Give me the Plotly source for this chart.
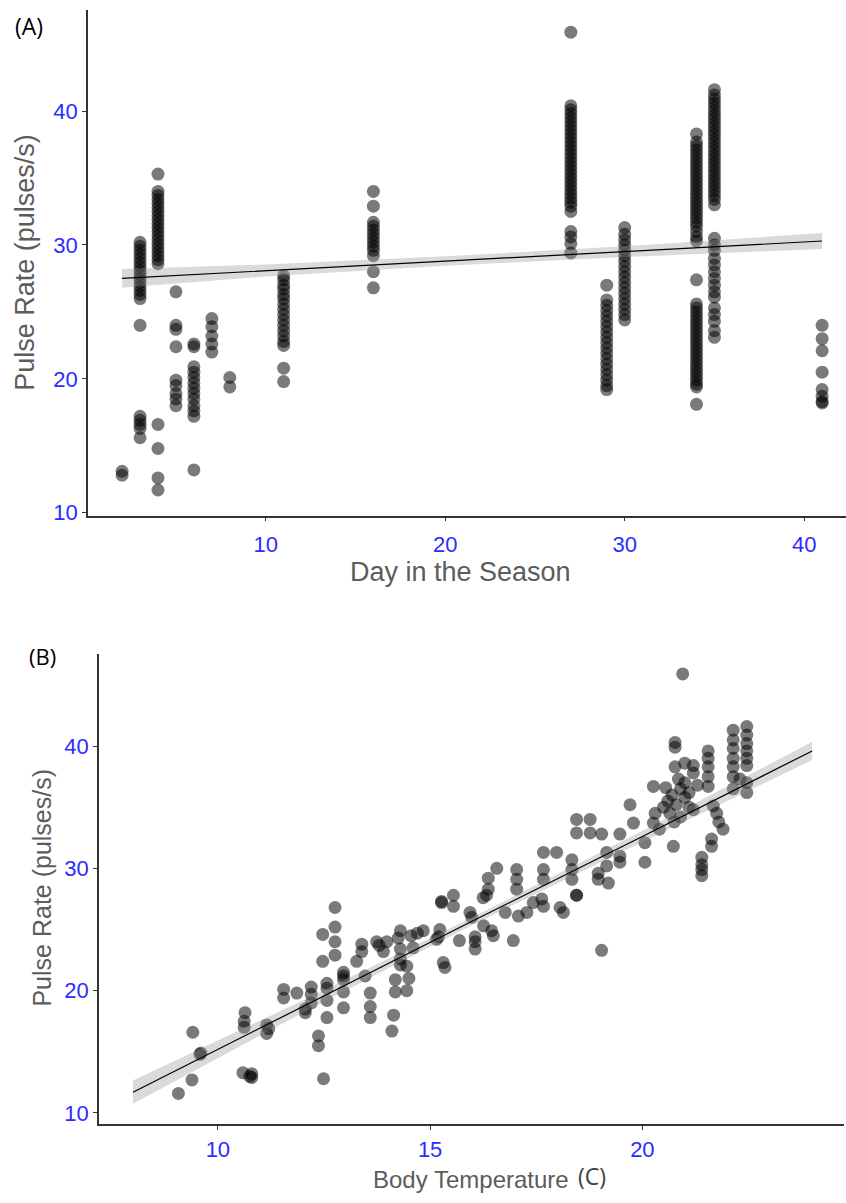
import plotly.graph_objects as go

# ---------------- Panel A data: Day in the Season vs Pulse Rate ----------------
days = [2, 3, 4, 5, 6, 7, 8, 11, 16, 27, 29, 30, 34, 35, 41]
pulse_by_day = [
    [13.1, 12.8],
    [30.2, 29.9, 29.6, 29.3, 29.0, 28.7, 28.4, 28.1, 27.8, 27.5, 27.2, 26.9, 26.6, 26.3, 26.0,
     24.0, 17.2, 16.9, 16.6, 16.3, 15.6],
    [35.3, 34.0, 33.7, 33.4, 33.1, 32.8, 32.5, 32.2, 31.9, 31.6, 31.3, 31.0, 30.7, 30.4, 30.1,
     29.8, 29.5, 29.2, 28.9, 28.6, 16.6, 14.8, 12.6, 11.7],
    [26.5, 24.0, 23.7, 22.4, 19.9, 19.5, 18.9, 18.5, 18.0],
    [22.6, 22.4, 20.9, 20.5, 20.1, 19.7, 19.3, 18.9, 18.5, 18.0, 17.6, 17.2, 13.2],
    [24.5, 23.9, 23.2, 22.6, 22.0],
    [20.1, 19.4],
    [27.7, 27.4, 27.0, 26.7, 26.3, 26.0, 25.6, 25.2, 24.8, 24.4, 24.0, 23.6, 23.2, 22.8, 22.5,
     20.8, 19.8],
    [34.0, 32.9, 31.7, 31.4, 31.1, 30.8, 30.5, 30.2, 29.9, 29.6, 29.2, 28.0, 26.8],
    [45.9, 40.4, 40.1, 39.8, 39.5, 39.2, 38.9, 38.6, 38.3, 38.0, 37.7, 37.4, 37.1, 36.8, 36.5,
     36.2, 35.9, 35.6, 35.3, 35.0, 34.7, 34.4, 34.1, 33.8, 33.5, 33.2, 32.9, 32.5, 31.0, 30.6,
     30.1, 29.4],
    [27.0, 25.9, 25.5, 25.1, 24.7, 24.3, 23.9, 23.5, 23.1, 22.7, 22.3, 21.9, 21.5, 21.1, 20.7,
     20.3, 19.9, 19.5, 19.2],
    [31.3, 30.8, 30.4, 30.0, 29.6, 29.2, 28.8, 28.4, 28.0, 27.6, 27.2, 26.8, 26.4, 26.0, 25.6,
     25.2, 24.8, 24.4],
    [38.3, 37.7, 37.4, 37.1, 36.8, 36.5, 36.2, 35.9, 35.6, 35.3, 35.0, 34.7, 34.4, 34.1, 33.8,
     33.5, 33.2, 32.9, 32.6, 32.3, 32.0, 31.7, 31.4, 31.0, 30.6, 30.3, 27.4, 25.6, 25.3, 25.0,
     24.7, 24.4, 24.1, 23.8, 23.5, 23.2, 22.9, 22.6, 22.3, 22.0, 21.7, 21.4, 21.1, 20.8, 20.5,
     20.2, 19.9, 19.6, 19.4, 18.1],
    [41.6, 41.2, 40.9, 40.6, 40.3, 40.0, 39.7, 39.4, 39.1, 38.8, 38.5, 38.2, 37.9, 37.6, 37.3,
     37.0, 36.7, 36.4, 36.1, 35.8, 35.5, 35.2, 34.9, 34.6, 34.3, 34.0, 33.7, 33.4, 33.0, 30.5,
     30.0, 29.6, 29.0, 28.5, 28.0, 27.5, 27.0, 26.5, 26.1, 25.3, 24.8, 24.3, 23.6, 23.1],
    [24.0, 23.0, 22.1, 20.5, 19.2, 18.7, 18.3, 18.2],
]
fit_a_x = [2, 10, 20, 30, 41]
fit_a_y = [27.5, 28.1, 28.8, 29.5, 30.3]
fit_a_half = [0.7, 0.45, 0.35, 0.4, 0.6]

# ---------------- Panel B data: Body Temperature vs Pulse Rate ----------------
body_temp = [
    9.07, 9.39, 9.41, 9.58, 9.60,
    10.59, 10.80, 10.80, 10.75, 10.64, 10.62, 10.62,
    11.15, 11.15, 11.20, 11.55, 11.55, 11.86,
    12.06, 12.06, 12.20, 12.20, 12.20, 12.37, 12.37, 12.49,
    12.47, 12.47, 12.57, 12.57, 12.57, 12.57,
    12.76, 12.76, 12.76, 12.76, 12.96, 12.96, 12.96, 12.96, 12.96,
    13.27, 13.39, 13.39, 13.47, 13.59, 13.59, 13.59,
    13.74, 13.98, 13.90, 13.80,
    14.10, 14.14, 14.18, 14.18, 14.30, 14.30, 14.30, 14.30, 14.25,
    14.45, 14.45, 14.50, 14.55, 14.60, 14.70, 14.84,
    15.23, 15.15, 15.20, 15.31, 15.35, 15.69,
    16.06, 16.06, 16.06, 16.26, 16.45, 16.49,
    16.77, 16.96, 17.08, 17.28, 17.43, 17.63, 17.67,
    18.06, 18.14, 18.45, 19.04,
    15.27, 15.55, 15.55, 15.27, 15.94, 15.98, 16.25, 16.33,
    16.57, 16.37, 16.37, 17.04, 17.04, 17.04,
    17.67, 17.67, 17.67, 17.98, 18.34, 18.34, 18.34, 18.45,
    18.96, 18.96, 19.20, 18.77, 18.45, 18.45, 18.77,
    19.04, 19.16, 19.16, 19.47, 19.47, 19.47, 19.71, 19.79,
    20.06, 20.06, 20.26, 20.40, 20.30, 20.26,
    20.50, 20.60, 20.70, 20.80, 20.90, 21.00, 21.10, 20.65, 20.75, 20.90, 21.20, 21.00, 20.85,
    21.10, 21.30, 20.55,
    20.73, 20.77, 20.77, 20.77, 21.00, 21.20, 21.20,
    21.55, 21.55, 21.55, 21.55, 21.55, 21.67, 21.75, 21.80, 21.90, 21.63, 21.63,
    21.40, 21.40, 21.40, 21.40,
    22.14, 22.14, 22.14, 22.14, 22.14, 22.14, 22.14,
    22.46, 22.46, 22.46, 22.46, 22.46, 22.46, 22.30, 22.46, 22.46,
    20.95,
]
pulse_b = [
    11.6, 12.7, 16.6, 14.8, 14.9,
    13.3, 13.2, 12.9, 13.0, 18.2, 17.5, 17.0,
    17.2, 16.5, 16.9, 20.1, 19.4, 19.8,
    18.5, 18.2, 20.3, 19.7, 19.0, 16.3, 15.5, 12.8,
    24.6, 22.4, 20.2, 19.2, 17.8, 20.6,
    26.8, 25.2, 24.0, 22.9, 21.5, 20.9, 19.9, 18.6, 21.2,
    22.4, 23.8, 23.2, 21.2, 19.8, 18.7, 17.8,
    24.0, 24.0, 23.2, 23.7,
    16.7, 18.0, 20.9, 19.9, 24.9, 23.4, 22.6, 22.1, 24.3,
    22.0, 20.0, 21.0, 24.5, 23.5, 24.7, 24.9,
    25.0, 24.2, 24.4, 22.3, 21.9, 24.1,
    24.4, 23.4, 24.0, 25.3, 24.9, 24.5,
    26.4, 24.1, 26.1, 26.4, 27.2, 27.5, 26.9,
    26.8, 26.4, 27.8, 23.3,
    27.2, 26.9, 27.8, 27.3, 26.4, 26.0, 27.6, 27.8,
    30.0, 29.2, 28.3, 29.9, 29.1, 28.3,
    31.3, 29.9, 29.1, 31.3, 30.7, 29.9, 29.1, 27.8,
    29.6, 29.1, 28.8, 34.0, 34.0, 32.9, 32.9,
    32.8, 31.3, 30.2, 32.8, 31.0, 30.5, 35.2, 33.7,
    32.1, 30.5, 33.7, 33.2, 34.5, 36.7,
    35.0, 35.5, 36.0, 35.2, 36.5, 35.8, 36.2, 34.5, 33.8, 34.2, 34.8, 37.0, 37.3,
    35.0, 36.8, 36.6,
    31.8, 40.3, 39.9, 38.3, 38.6, 38.4, 37.8,
    39.6, 39.0, 38.3, 37.5, 36.7, 35.1, 34.5, 33.8, 33.2, 32.4, 31.8,
    30.9, 30.3, 29.9, 29.4,
    41.3, 40.5, 39.8, 39.0, 38.3, 37.5, 36.5,
    41.6, 40.9, 40.2, 39.6, 39.0, 38.4, 37.3, 37.0, 36.2,
    45.9,
]
fit_b_x = [8, 12, 16, 20, 24]
fit_b_y = [11.7, 18.7, 25.7, 32.6, 39.6]
fit_b_half = [0.95, 0.5, 0.3, 0.45, 0.75]

# ---------------- styling ----------------
W, H = 846, 1203
PT_COLOR = "rgba(0,0,0,0.52)"
PT_SIZE = 13
BAND = "rgba(150,150,150,0.35)"
TICK_BLUE = "#2c2cff"
TITLE_GRAY = "#5c5c5c"
AXIS_COL = "#333333"
SANS = "Liberation Sans, Arial, sans-serif"
LABEL_FAMILY = "Open Sans, Lato, sans-serif"


def py(p):
    return 1 - p / H


fig = go.Figure()

# Panel A points
xa, ya = [], []
for d, vals in zip(days, pulse_by_day):
    for v in vals:
        xa.append(d)
        ya.append(v)
fig.add_trace(go.Scatter(x=xa, y=ya, mode="markers", xaxis="x", yaxis="y",
                         marker=dict(size=PT_SIZE, color=PT_COLOR, line=dict(width=0)),
                         showlegend=False, hoverinfo="skip"))
lo_a = [m - h for m, h in zip(fit_a_y, fit_a_half)]
hi_a = [m + h for m, h in zip(fit_a_y, fit_a_half)]
fig.add_trace(go.Scatter(x=fit_a_x + fit_a_x[::-1], y=hi_a + lo_a[::-1], fill="toself",
                         fillcolor=BAND, line=dict(width=0), mode="lines",
                         xaxis="x", yaxis="y", showlegend=False, hoverinfo="skip"))
fig.add_trace(go.Scatter(x=fit_a_x, y=fit_a_y, mode="lines", line=dict(color="black", width=1.2),
                         xaxis="x", yaxis="y", showlegend=False, hoverinfo="skip"))

# Panel B points
fig.add_trace(go.Scatter(x=body_temp, y=pulse_b, mode="markers", xaxis="x2", yaxis="y2",
                         marker=dict(size=PT_SIZE, color=PT_COLOR, line=dict(width=0)),
                         showlegend=False, hoverinfo="skip"))
lo_b = [m - h for m, h in zip(fit_b_y, fit_b_half)]
hi_b = [m + h for m, h in zip(fit_b_y, fit_b_half)]
fig.add_trace(go.Scatter(x=fit_b_x + fit_b_x[::-1], y=hi_b + lo_b[::-1], fill="toself",
                         fillcolor=BAND, line=dict(width=0), mode="lines",
                         xaxis="x2", yaxis="y2", showlegend=False, hoverinfo="skip"))
fig.add_trace(go.Scatter(x=fit_b_x, y=fit_b_y, mode="lines", line=dict(color="black", width=1.2),
                         xaxis="x2", yaxis="y2", showlegend=False, hoverinfo="skip"))

axis_common = dict(showgrid=False, zeroline=False, showline=True, linecolor=AXIS_COL,
                   linewidth=1.5, ticks="outside", ticklen=4, tickwidth=1.2,
                   tickcolor=AXIS_COL, mirror=False,
                   tickfont=dict(family=SANS, size=22, color=TICK_BLUE))

fig.update_layout(
    width=W, height=H, margin=dict(l=0, r=0, t=0, b=0),
    paper_bgcolor="white", plot_bgcolor="white",
    xaxis=dict(domain=[88 / W, 1.0], range=[0.1, 42.33], anchor="y",
               tickvals=[10, 20, 30, 40], ticklabelstandoff=4, **axis_common),
    yaxis=dict(domain=[py(520), py(10)], range=[9.78, 47.56], anchor="x",
               tickvals=[10, 20, 30, 40], **axis_common),
    xaxis2=dict(domain=[99 / W, 844 / W], range=[7.2, 24.75], anchor="y2",
                tickvals=[10, 15, 20], ticklabelstandoff=1, **axis_common),
    yaxis2=dict(domain=[py(1133.3), py(659.3)], range=[9.11, 47.54], anchor="x2",
                tickvals=[10, 20, 30, 40], **axis_common),
)

annotations = [
    dict(text="(A)", x=29 / W, y=py(26), xref="paper", yref="paper", showarrow=False,
         xanchor="center", yanchor="middle", font=dict(family=LABEL_FAMILY, size=23, color="black")),
    dict(text="(B)", x=42 / W, y=py(661), xref="paper", yref="paper", showarrow=False,
         xanchor="center", yanchor="middle", font=dict(family=LABEL_FAMILY, size=22, color="black")),
    dict(text="Pulse Rate (pulses/s)", x=25 / W, y=py(265), xref="paper", yref="paper",
         showarrow=False, textangle=-90, xanchor="center", yanchor="middle",
         font=dict(family=SANS, size=27, color=TITLE_GRAY)),
    dict(text="Day in the Season", x=460 / W, y=py(577), xref="paper", yref="paper",
         showarrow=False, xanchor="center", yanchor="middle",
         font=dict(family=SANS, size=27, color=TITLE_GRAY)),
    dict(text="Pulse Rate (pulses/s)", x=42 / W, y=py(895), xref="paper", yref="paper",
         showarrow=False, textangle=-90, xanchor="center", yanchor="middle",
         font=dict(family=SANS, size=25, color=TITLE_GRAY)),
    dict(text="Body Temperature", x=471 / W, y=py(1189), xref="paper", yref="paper",
         showarrow=False, xanchor="center", yanchor="middle",
         font=dict(family=SANS, size=24, color=TITLE_GRAY)),
    dict(text="(C)", x=576 / W, y=py(1186), xref="paper", yref="paper", showarrow=False,
         xanchor="left", yanchor="middle",
         font=dict(family=LABEL_FAMILY, size=23, color="#404040")),
]
fig.update_layout(annotations=annotations)

fig.write_html("out.html")
